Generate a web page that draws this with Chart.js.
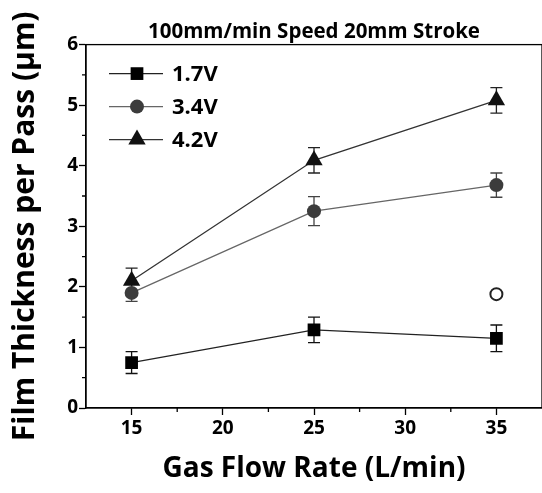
<!DOCTYPE html>
<html>
<head>
<meta charset="utf-8">
<script src="https://cdn.jsdelivr.net/npm/chart.js@4.4.1/dist/chart.umd.min.js"></script>
<style>
  html, body { margin: 0; padding: 0; background: #fff; }
  #wrap { width: 542px; height: 493px; }
</style>
</head>
<body>
<div id="wrap"><canvas id="myChart" width="542" height="493"></canvas></div>
<script>
const flowRates = [15, 25, 35]
const v17 = [0.75, 1.29, 1.15]
const v17Err = [0.18, 0.21, 0.22]
const v34 = [1.90, 3.25, 3.68]
const v34Err = [0.14, 0.24, 0.20]
const v42 = [2.10, 4.09, 5.08]
const v42Err = [0.21, 0.21, 0.21]
const strayX = [35]
const strayY = [1.88]
const xTicks = [15, 20, 25, 30, 35]
const xMinor = [17.5, 22.5, 27.5, 32.5]
const yTicks = [0, 1, 2, 3, 4, 5, 6]
const yMinor = [0.5, 1.5, 2.5, 3.5, 4.5, 5.5]

Chart.defaults.font.family = "'Open Sans', 'DejaVu Sans', sans-serif"
Chart.defaults.color = '#000'

function pts(xs, ys) {
    return xs.map((x, i) => ({x: x, y: ys[i]}))
}

function marker(ctx, style, x, y, r) {
    ctx.beginPath()
    if (style === 'rect') {
        let s = r * Math.SQRT1_2
        ctx.rect(x - s, y - s, 2 * s, 2 * s)
    } else if (style === 'triangle') {
        ctx.moveTo(x, y - r)
        ctx.lineTo(x + r * 0.866, y + r * 0.5)
        ctx.lineTo(x - r * 0.866, y + r * 0.5)
        ctx.closePath()
    } else {
        ctx.arc(x, y, r, 0, Math.PI * 2)
    }
    ctx.fill()
}

// error bars, minor ticks, frame and the in-plot legend
const extras = {
    id: 'extras',
    beforeDatasetsDraw(chart) {
        const ctx = chart.ctx
        const xs = chart.scales.x, ys = chart.scales.y
        chart.data.datasets.forEach(ds => {
            if (!ds.err) return
            ctx.save()
            ctx.strokeStyle = ds.errColor
            ctx.lineWidth = 1.3
            ds.data.forEach((p, i) => {
                let px = xs.getPixelForValue(p.x)
                let top = ys.getPixelForValue(p.y + ds.err[i])
                let bot = ys.getPixelForValue(p.y - ds.err[i])
                ctx.beginPath()
                ctx.moveTo(px, top); ctx.lineTo(px, bot)
                ctx.moveTo(px - 6, top); ctx.lineTo(px + 6, top)
                ctx.moveTo(px - 6, bot); ctx.lineTo(px + 6, bot)
                ctx.stroke()
            })
            ctx.restore()
        })
    },
    afterDraw(chart) {
        const ctx = chart.ctx
        const a = chart.chartArea
        const xs = chart.scales.x, ys = chart.scales.y
        ctx.save()
        ctx.strokeStyle = '#000'
        ctx.lineWidth = 1.3
        ctx.strokeRect(a.left, a.top, a.right - a.left, a.bottom - a.top)
        ctx.beginPath()
        xMinor.forEach(v => {
            let px = xs.getPixelForValue(v)
            ctx.moveTo(px, a.bottom); ctx.lineTo(px, a.bottom + 4)
        })
        yMinor.forEach(v => {
            let py = ys.getPixelForValue(v)
            ctx.moveTo(a.left, py); ctx.lineTo(a.left - 4, py)
        })
        ctx.stroke()

        // legend
        let row = 0
        chart.data.datasets.forEach(ds => {
            if (!ds.label) return
            let y = a.top + 29 + row * 33
            ctx.strokeStyle = ds.borderColor
            ctx.lineWidth = 1.3
            ctx.beginPath()
            ctx.moveTo(a.left + 23, y); ctx.lineTo(a.left + 77, y)
            ctx.stroke()
            ctx.fillStyle = ds.pointBackgroundColor
            marker(ctx, ds.pointStyle, a.left + 51, y, ds.pointRadius)
            ctx.fillStyle = '#000'
            ctx.font = "bold 22px 'Open Sans', sans-serif"
            ctx.textBaseline = 'middle'
            ctx.fillText(ds.label, a.left + 86, y + 1)
            row++
        })
        ctx.restore()
    }
}

const ctx = document.getElementById('myChart').getContext('2d')
new Chart(ctx, {
    type: 'scatter',
    data: {
        datasets: [{
            label: '1.7V',
            data: pts(flowRates, v17),
            err: v17Err,
            errColor: '#111',
            showLine: true,
            borderColor: '#222',
            borderWidth: 1.3,
            pointStyle: 'rect',
            pointRadius: 9,
            pointBackgroundColor: '#000',
            pointBorderWidth: 0
        }, {
            label: '3.4V',
            data: pts(flowRates, v34),
            err: v34Err,
            errColor: '#444',
            showLine: true,
            borderColor: '#666',
            borderWidth: 1.3,
            pointStyle: 'circle',
            pointRadius: 7,
            pointBackgroundColor: '#3c3c3c',
            pointBorderWidth: 0
        }, {
            label: '4.2V',
            data: pts(flowRates, v42),
            err: v42Err,
            errColor: '#222',
            showLine: true,
            borderColor: '#333',
            borderWidth: 1.3,
            pointStyle: 'triangle',
            pointRadius: 10,
            pointBackgroundColor: '#111',
            pointBorderWidth: 0
        }, {
            label: '',
            data: pts(strayX, strayY),
            showLine: false,
            pointStyle: 'circle',
            pointRadius: 6,
            pointBackgroundColor: '#fff',
            pointBorderColor: '#222',
            pointBorderWidth: 2
        }]
    },
    options: {
        responsive: false,
        animation: false,
        layout: {padding: 0, autoPadding: false},
        plugins: {
            legend: {display: false},
            tooltip: {enabled: false},
            title: {
                display: true,
                text: '100mm/min Speed 20mm Stroke',
                fullSize: false,
                color: '#000',
                font: {size: 20.5, weight: 'bold'},
                padding: {top: 20, bottom: 0}
            }
        },
        scales: {
            x: {
                type: 'linear',
                min: 12.5,
                max: 37.5,
                afterBuildTicks: s => { s.ticks = xTicks.map(v => ({value: v})) },
                afterFit: s => { s.height = 85; s.paddingLeft = 0; s.paddingRight = 0 },
                grid: {drawOnChartArea: false, tickLength: 7, color: '#000', tickWidth: 1.3},
                border: {color: '#000', width: 1.3},
                ticks: {font: {size: 19, weight: 'bold'}, color: '#000', padding: 2, maxRotation: 0},
                title: {
                    display: true,
                    text: 'Gas Flow Rate (L/min)',
                    color: '#000',
                    font: {size: 28, weight: 'bold'},
                    padding: {top: 0, bottom: 7}
                }
            },
            y: {
                min: 0,
                max: 6,
                afterBuildTicks: s => { s.ticks = yTicks.map(v => ({value: v})) },
                afterFit: s => { s.width = 86; s.paddingTop = 0; s.paddingBottom = 0 },
                grid: {drawOnChartArea: false, tickLength: 7, color: '#000', tickWidth: 1.3},
                border: {color: '#000', width: 1.3},
                ticks: {font: {size: 19, weight: 'bold'}, color: '#000', padding: 1},
                title: {
                    display: true,
                    text: 'Film Thickness per Pass (μm)',
                    color: '#000',
                    font: {size: 30, weight: 'bold'},
                    padding: {top: 7, bottom: 0}
                }
            }
        }
    },
    plugins: [extras]
})
</script>
</body>
</html>
